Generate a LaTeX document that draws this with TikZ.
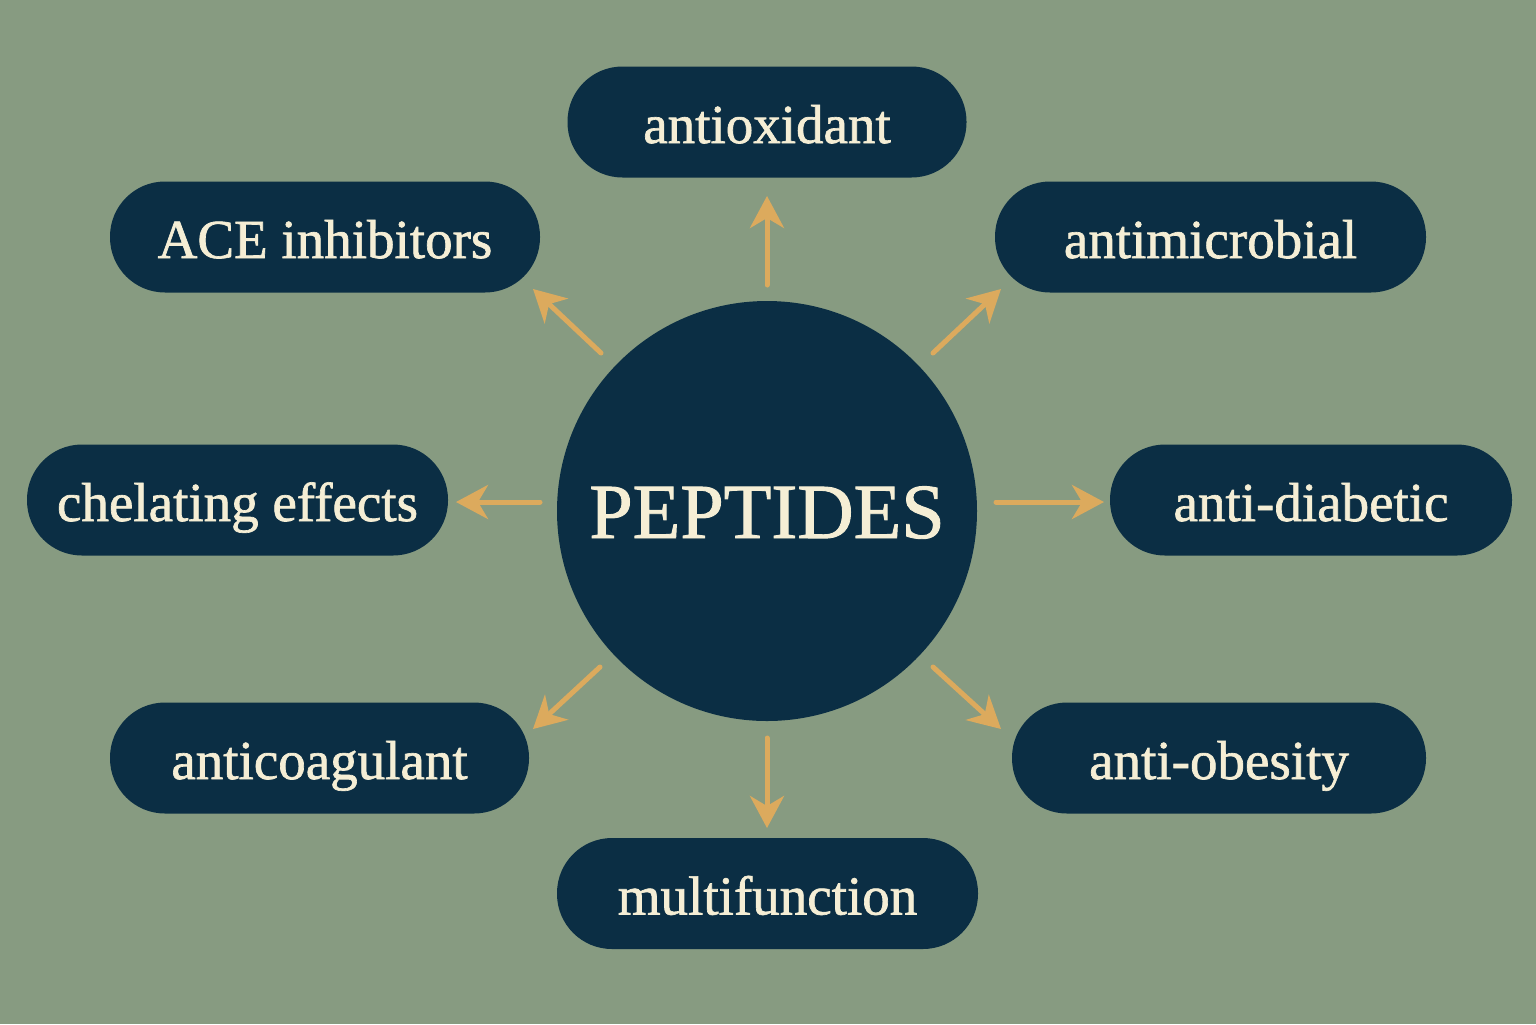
\documentclass[tikz,border=0pt]{standalone}
\usepackage{fontspec}
\setmainfont{Liberation Serif}[FakeBold=1.2]
\newfontfamily\boldish{Liberation Serif}[FakeBold=1.2]
\usetikzlibrary{arrows.meta}
\definecolor{bgc}{HTML}{879B81}
\definecolor{navy}{HTML}{0B2E44}
\definecolor{cream}{HTML}{F5EED5}
\definecolor{gold}{HTML}{DCAA5D}
\tikzset{
  pill/.style={fill=navy, rounded corners=27.5pt, minimum height=55.5pt, text=cream,
    font=\boldish\fontsize{27.5}{30}\selectfont, inner sep=0pt,
    text height=21pt, text depth=0pt},
  hub/.style={circle, fill=navy, minimum size=210pt, text=cream, inner sep=0pt,
    font=\boldish\fontsize{39}{42}\selectfont, text height=27pt, text depth=0pt},
  conn/.style={draw=gold, line width=2.5pt, line cap=round,
    -{Stealth[length=16pt, width=17pt, inset=5pt]}}
}
\begin{document}
\begin{tikzpicture}[x=0.5pt, y=-0.5pt]
\fill[bgc] (0,0) rectangle (1536,1024);
\useasboundingbox (0,0) rectangle (1536,1024);
\node[hub] (c) at (767,511) {PEPTIDES};
\node[pill, minimum width=199.5pt] (n1) at (767,122) {antioxidant};
\node[pill, minimum width=215pt] (n2) at (325,237) {ACE inhibitors};
\node[pill, minimum width=215.5pt] (n3) at (1210.5,237) {antimicrobial};
\node[pill, minimum width=210.5pt] (n4) at (237.5,500) {chelating effects};
\node[pill, minimum width=201pt] (n5) at (1311,500) {anti-diabetic};
\node[pill, minimum width=209.5pt] (n6) at (319.5,758) {anticoagulant};
\node[pill, minimum width=207pt] (n7) at (1219,758) {anti-obesity};
\node[pill, minimum width=210.5pt] (n8) at (767.5,893.5) {multifunction};
\coordinate (s1) at (767,285); \coordinate (e1) at (767,196);
\coordinate (s2) at (601,353); \coordinate (e2) at (533,289);
\coordinate (s3) at (933,353); \coordinate (e3) at (1001,289);
\coordinate (s4) at (540,502); \coordinate (e4) at (456,502);
\coordinate (s5) at (996,502); \coordinate (e5) at (1104,502);
\coordinate (s6) at (600,667); \coordinate (e6) at (533,729);
\coordinate (s7) at (767,738); \coordinate (e7) at (767,828);
\coordinate (s8) at (933,667); \coordinate (e8) at (1001,729);
\foreach \i in {1,...,8} \draw[conn] (s\i) -- (e\i);
\end{tikzpicture}
\end{document}
